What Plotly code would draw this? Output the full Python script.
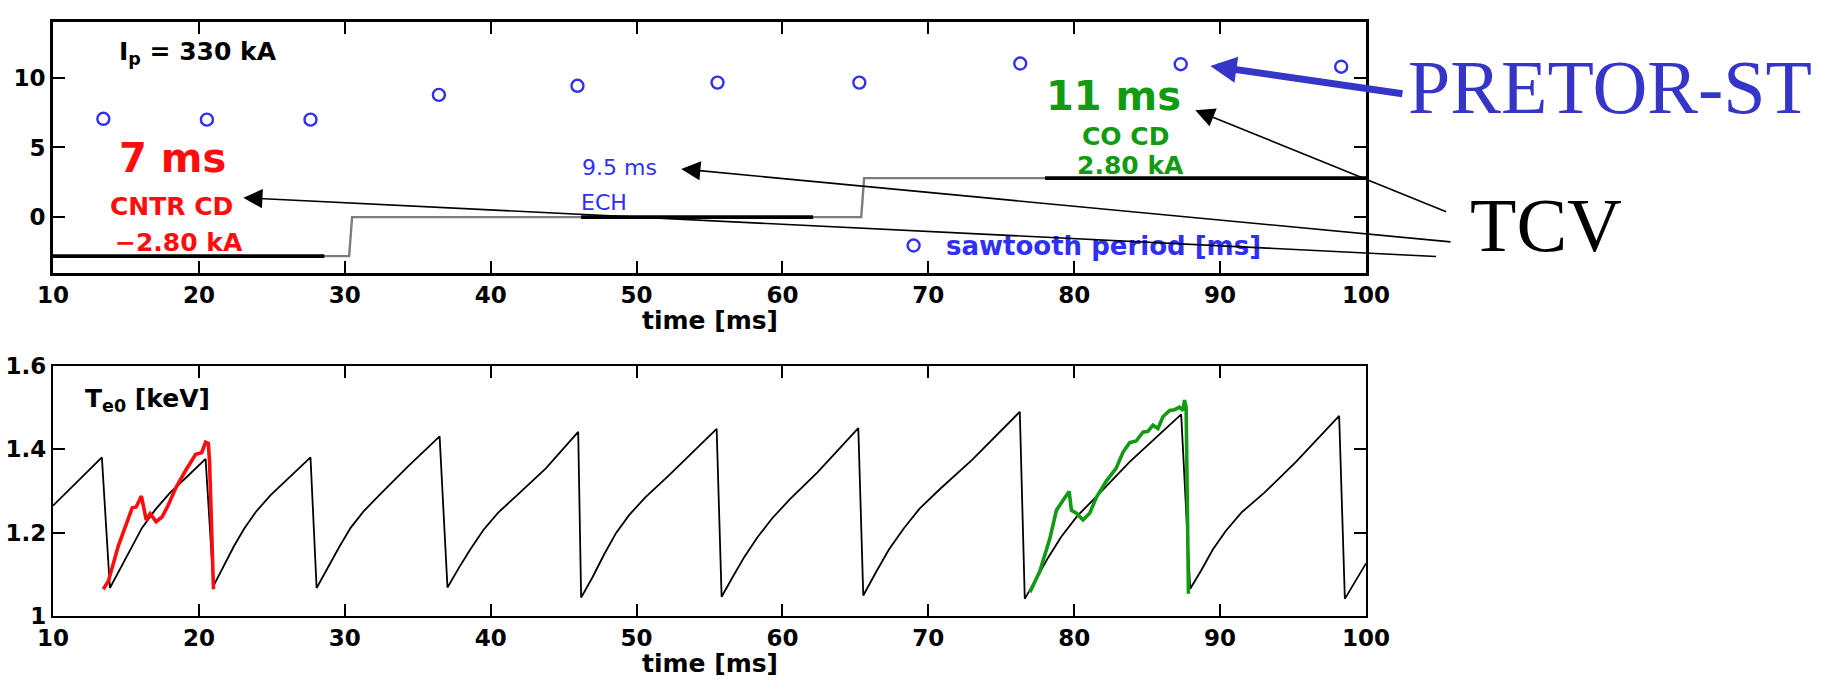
import plotly.graph_objects as go

# ---------------- data ----------------
# top panel: sawtooth period (PRETOR-ST)
st_time = [13.45, 20.55, 27.65, 36.45, 45.95, 55.55, 65.27, 76.3, 87.3, 98.3]
st_period = [7.06, 7.0, 7.0, 8.78, 9.43, 9.66, 9.66, 11.03, 10.98, 10.8]

# driven current step trace [kA]
cd_time = [10, 30.3, 30.5, 65.4, 65.6, 100]
cd_value = [-2.8, -2.8, 0, 0, 2.8, 2.8]
# averaging windows (thick black parts of the step trace)
cd_win_time = [10, 28.6, None, 46.2, 62.1, None, 78.0, 100]
cd_win_value = [-2.8, -2.8, None, 0, 0, None, 2.8, 2.8]

# bottom panel: simulated central electron temperature [keV]
te_sim_time = [10, 11.7, 13.35,
               13.9, 14.6, 15.3, 16.1, 17.0, 18.0, 19.2, 20.46,
               21.0, 21.7, 22.4, 23.1, 23.9, 24.9, 26.2, 27.65,
               28.07, 28.8, 29.6, 30.4, 31.3, 32.5, 34.3, 36.5,
               37.04, 37.8, 38.6, 39.5, 40.5, 41.8, 43.8, 46.0,
               46.2, 47.0, 47.8, 48.6, 49.5, 50.6, 52.2, 55.49,
               55.83, 56.6, 57.4, 58.3, 59.3, 60.5, 62.4, 65.2,
               65.54, 66.4, 67.3, 68.3, 69.4, 70.8, 73.0, 76.27,
               76.61, 77.4, 78.2, 79.1, 80.2, 81.6, 83.8, 87.33,
               87.95, 88.7, 89.5, 90.4, 91.5, 93.0, 95.2, 98.16,
               98.55, 100]
te_sim_value = [1.265, 1.325, 1.381,
                1.068, 1.115, 1.16, 1.212, 1.255, 1.295, 1.335, 1.377,
                1.073, 1.12, 1.168, 1.21, 1.25, 1.29, 1.333, 1.381,
                1.068, 1.115, 1.165, 1.212, 1.252, 1.295, 1.358, 1.431,
                1.069, 1.115, 1.16, 1.207, 1.248, 1.29, 1.355, 1.442,
                1.045, 1.095, 1.15, 1.2, 1.243, 1.285, 1.337, 1.449,
                1.047, 1.095, 1.143, 1.19, 1.235, 1.28, 1.345, 1.451,
                1.05, 1.105, 1.16, 1.21, 1.258, 1.305, 1.375, 1.49,
                1.042, 1.09, 1.14, 1.19, 1.24, 1.29, 1.37, 1.484,
                1.066, 1.11, 1.16, 1.205, 1.25, 1.295, 1.37, 1.48,
                1.042, 1.127]

# measured (TCV) Te0, counter-current drive
te_cntr_time = [13.45, 13.8, 14.48, 15.16, 15.43, 15.7, 16.06, 16.39, 16.66, 17.07,
                17.47, 17.88, 18.42, 19.1, 19.78, 20.19, 20.46, 20.65, 20.73, 21.0]
te_cntr_value = [1.065, 1.085, 1.169, 1.238, 1.26, 1.262, 1.288, 1.231, 1.246, 1.227,
                 1.238, 1.265, 1.308, 1.35, 1.388, 1.392, 1.417, 1.414, 1.37, 1.065]

# measured (TCV) Te0, co-current drive
te_co_time = [76.96, 77.64, 78.32, 78.78, 79.24, 79.65, 79.81, 80.15, 80.6, 81.06,
              81.52, 82.2, 82.88, 83.34, 83.8, 84.25, 84.71, 85.05, 85.4, 85.74,
              86.08, 86.54, 86.88, 87.22, 87.45, 87.56, 87.67, 87.83]
te_co_value = [1.058, 1.108, 1.185, 1.254, 1.278, 1.299, 1.254, 1.247, 1.231, 1.247,
               1.285, 1.324, 1.355, 1.393, 1.416, 1.42, 1.441, 1.443, 1.458, 1.45,
               1.478, 1.493, 1.495, 1.501, 1.493, 1.518, 1.501, 1.054]

x_ticks = [10, 20, 30, 40, 50, 60, 70, 80, 90, 100]
y1_ticks = [0, 5, 10]
y2_ticks = [1, 1.2, 1.4, 1.6]
y2_ticktext = ["1", "1.2", "1.4", "1.6"]
legend_point_time = [68.99]
legend_point_value = [-2.04]

# ---------------- styles ----------------
FONT = "DejaVu Sans"
RED = "#ff0d0d"
GREEN = "#139a13"
BLUE = "#3030f5"
PBLUE = "#3535c8"

fig = go.Figure()

fig.add_trace(go.Scatter(x=cd_time, y=cd_value, mode="lines",
                         line=dict(color="#7c7c7c", width=2.4), xaxis="x", yaxis="y",
                         showlegend=False))
fig.add_trace(go.Scatter(x=cd_win_time, y=cd_win_value, mode="lines",
                         line=dict(color="black", width=3.6), xaxis="x", yaxis="y",
                         showlegend=False, connectgaps=False))
fig.add_trace(go.Scatter(x=st_time, y=st_period, mode="markers",
                         marker=dict(symbol="circle-open", size=12,
                                     line=dict(color=BLUE, width=2.4), color=BLUE),
                         xaxis="x", yaxis="y", showlegend=False))
fig.add_trace(go.Scatter(x=legend_point_time, y=legend_point_value, mode="markers",
                         marker=dict(symbol="circle-open", size=12,
                                     line=dict(color=BLUE, width=2.4), color=BLUE),
                         xaxis="x", yaxis="y", showlegend=False))

fig.add_trace(go.Scatter(x=te_sim_time, y=te_sim_value, mode="lines",
                         line=dict(color="black", width=1.8), xaxis="x2", yaxis="y2",
                         showlegend=False))
fig.add_trace(go.Scatter(x=te_cntr_time, y=te_cntr_value, mode="lines",
                         line=dict(color=RED, width=3.6), xaxis="x2", yaxis="y2",
                         showlegend=False))
fig.add_trace(go.Scatter(x=te_co_time, y=te_co_value, mode="lines",
                         line=dict(color=GREEN, width=3.6), xaxis="x2", yaxis="y2",
                         showlegend=False))

tickfont = dict(family=FONT, size=23, color="black", weight="bold")
axis_common = dict(showgrid=False, zeroline=False, showline=True, linecolor="black",
                   mirror="ticks", ticks="inside", ticklen=12, tickwidth=2,
                   tickcolor="black", tickfont=tickfont)

fig.update_layout(
    width=1825, height=690,
    margin=dict(l=53, r=459, t=0, b=0),
    paper_bgcolor="white", plot_bgcolor="white",
    xaxis=dict(domain=[0, 1], anchor="y", range=[10, 100], tickvals=x_ticks,
               linewidth=3, ticklabelstandoff=0, **axis_common),
    yaxis=dict(domain=[0.6087, 0.9862], anchor="x", range=[-4, 14], tickvals=y1_ticks,
               linewidth=3, **axis_common),
    xaxis2=dict(domain=[0, 1], anchor="y2", range=[10, 100], tickvals=x_ticks,
                linewidth=2.2, ticklabelstandoff=0, **axis_common),
    yaxis2=dict(domain=[0.0913, 0.4686], anchor="x2", range=[1, 1.6], tickvals=y2_ticks,
                ticktext=y2_ticktext, linewidth=2.2, **axis_common),
)

def txt(x, y, text, color, size, bold=True, xref="x", yref="y", xanchor="center",
        family=FONT):
    return dict(x=x, y=y, xref=xref, yref=yref, text=text, showarrow=False,
                xanchor=xanchor, yanchor="middle",
                font=dict(family=family, size=size, color=color,
                          weight="bold" if bold else "normal"))

ann = [
    txt(14.4, 11.8, "I<sub>p</sub> = 330 kA", "black", 25, xanchor="left"),
    txt(18.16, 4.22, "7 ms", RED, 40),
    txt(18.1, 0.74, "CNTR CD", RED, 25),
    txt(18.66, -1.85, "\u22122.80 kA", RED, 25),
    txt(48.8, 3.56, "9.5 ms", BLUE, 22, bold=False),
    txt(47.8, 1.04, "ECH", BLUE, 22, bold=False),
    txt(82.68, 8.72, "11 ms", GREEN, 40),
    txt(83.5, 5.78, "CO CD", GREEN, 25),
    txt(83.85, 3.74, "2.80 kA", GREEN, 25),
    txt(71.09, -2.04, "sawtooth period [ms]", BLUE, 26, xanchor="left"),
    txt(12.08, 1.518, "T<sub>e0</sub> [keV]", "black", 25, xref="x2", yref="y2",
        xanchor="left"),
    txt(0.5, -0.19, "time [ms]", "black", 25, xref="x domain", yref="y domain"),
    txt(0.5, -0.19, "time [ms]", "black", 25, xref="x2 domain", yref="y2 domain"),
    txt(1.186, 0.888, "PRETOR-ST", PBLUE, 76, bold=False, xref="paper", yref="paper",
        family="Liberation Serif"),
    txt(1.137, 0.681, "TCV", "black", 76, bold=False, xref="paper", yref="paper",
        family="Liberation Serif"),
]

def arrow(x, y, ax, ay, color, width, size):
    return dict(x=x, y=y, ax=ax, ay=ay, xref="x", yref="y", axref="x", ayref="y",
                text="", showarrow=True, arrowhead=2, arrowsize=size,
                arrowwidth=width, arrowcolor=color, standoff=0, startstandoff=0)

ann += [
    arrow(89.33, 10.86, 102.6, 8.85, PBLUE, 7, 0.75),
    arrow(88.3, 7.68, 105.6, 0.35, "black", 1.6, 2.4),
    arrow(53.06, 3.46, 105.9, -1.79, "black", 1.6, 2.4),
    arrow(23.04, 1.39, 104.9, -2.83, "black", 1.6, 2.4),
]
fig.update_layout(annotations=ann)

fig.write_html("out.html")
